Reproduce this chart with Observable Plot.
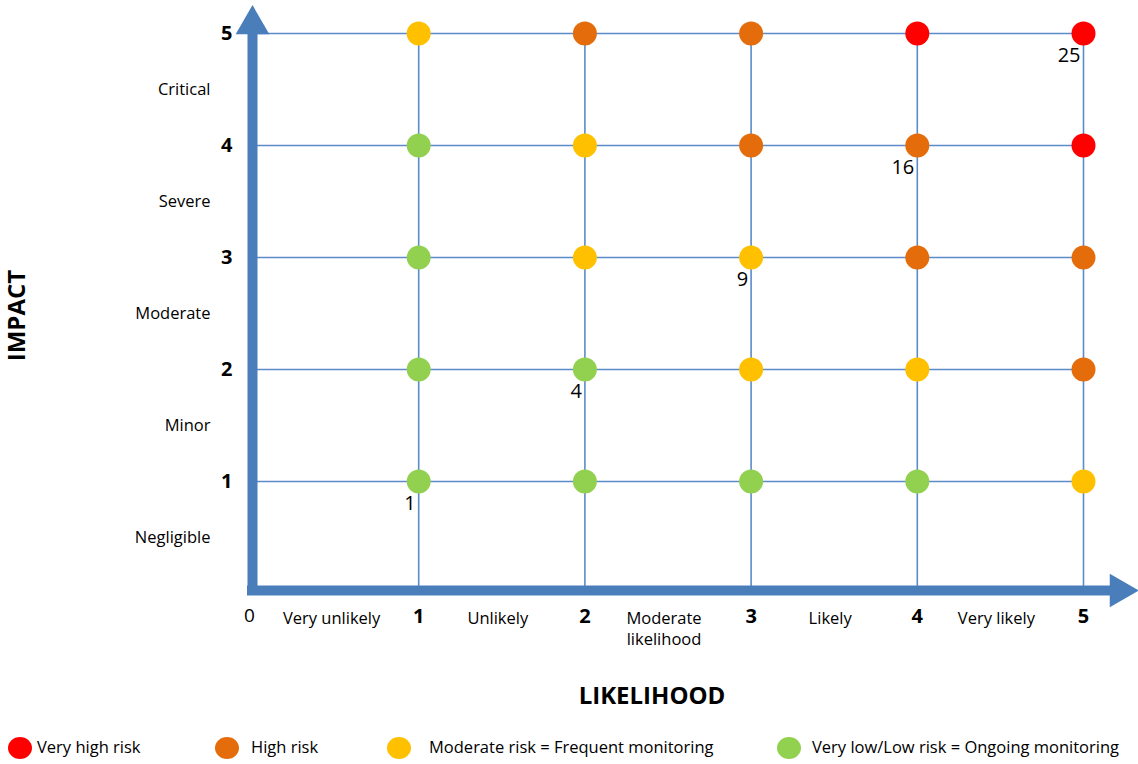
<!DOCTYPE html>
<html>
<head>
<meta charset="utf-8">
<script src="https://cdn.jsdelivr.net/npm/d3@7"></script>
<script src="https://cdn.jsdelivr.net/npm/@observablehq/plot@0.6"></script>
<style>
  html, body { margin: 0; padding: 0; background: #fff; }
  body { width: 1138px; height: 764px; overflow: hidden; font-family: "Open Sans", Lato, sans-serif; }
  #legend { position: relative; height: 39px; font-size: 16.5px; color: #000; }
  #legend .sw { position: absolute; width: 24px; height: 22px; border-radius: 50%; }
  #legend .lb { position: absolute; white-space: nowrap; line-height: 22px; }
</style>
</head>
<body>
<div id="chart"></div>
<div id="legend"></div>
<script>
// ---- data ----
const likelihood = [1, 2, 3, 4, 5];
const impact = [1, 2, 3, 4, 5];
const likelihoodLabels = ["Very unlikely", "Unlikely", "Moderate\nlikelihood", "Likely", "Very likely"];
const impactLabels = ["Negligible", "Minor", "Moderate", "Severe", "Critical"];
// rows: impact 1..5 ; columns: likelihood 1..5
const riskLevels = [
  ["Low", "Low", "Low", "Low", "Moderate"],
  ["Low", "Low", "Moderate", "Moderate", "High"],
  ["Low", "Moderate", "Moderate", "High", "High"],
  ["Low", "Moderate", "High", "High", "Very high"],
  ["Moderate", "High", "High", "Very high", "Very high"]
];
const scoreLabels = ["1", "4", "9", "16", "25"]; // on the diagonal
const riskCategories = ["Very high", "High", "Moderate", "Low"];
const riskColors = ["#FF0000", "#E46C0A", "#FFC000", "#92D050"];
const legendLabels = ["Very high risk", "High risk", "Moderate risk = Frequent monitoring", "Very low/Low risk = Ongoing monitoring"];

// ---- derived table ----
const cells = [];
impact.forEach((im, r) => likelihood.forEach((lk, c) => cells.push({x: lk, y: im, risk: riskLevels[r][c]})));
const diag = scoreLabels.map((s, i) => ({x: likelihood[i], y: impact[i], s}));

const blue = "#4A7EBB";
const grid = "#5B8BC9";
const font = "'Open Sans', Lato, sans-serif";

const chart = Plot.plot({
  width: 1138,
  height: 725,
  marginLeft: 252,
  marginRight: 55,
  marginTop: 33,
  marginBottom: 132,
  x: {domain: [0, 5], axis: null},
  y: {domain: [0, 5], axis: null},
  color: {domain: riskCategories, range: riskColors, legend: false},
  style: {fontFamily: font, fontSize: "16.5px", color: "#000", background: "#fff", overflow: "visible"},
  marks: [
    // grid
    Plot.ruleY(impact, {y: d => d, x1: () => 0, x2: () => 5, stroke: grid, strokeWidth: 1.6}),
    Plot.ruleX(likelihood, {x: d => d, y1: () => 0, y2: () => 5, stroke: grid, strokeWidth: 1.6}),
    // axis shafts
    Plot.ruleX([0], {x: d => d, y1: () => 0, y2: () => 5, stroke: blue, strokeWidth: 10, dy: -3, strokeLinecap: "square"}),
    Plot.ruleY([0], {y: d => d, x1: () => 0, x2: () => 5.18, stroke: blue, strokeWidth: 10, dy: -3, strokeLinecap: "square"}),
    // arrowheads
    Plot.dot([0], {x: () => 0, y: () => 5, symbol: "triangle", r: 12.5, fill: blue, stroke: "none", dy: -9}),
    Plot.dot([0], {x: () => 5, y: () => 0, symbol: "triangle", r: 12.5, fill: blue, stroke: "none", rotate: 90, dx: 36, dy: -3}),
    // risk dots
    Plot.dot(cells, {x: "x", y: "y", fill: "risk", r: 12, stroke: "none"}),
    // diagonal scores
    Plot.text(diag, {x: "x", y: "y", text: "s", textAnchor: "end", dx: -3, dy: 22, fontSize: 20}),
    // y tick numbers
    Plot.text(impact, {x: () => 0, y: d => d, text: d => String(d), textAnchor: "end", dx: -20, fontSize: 20, fontWeight: "bold"}),
    // y category labels
    Plot.text(impactLabels, {x: () => 0, y: (d, i) => i + 0.5, text: d => d, textAnchor: "end", dx: -42}),
    // x tick numbers
    Plot.text(["0"], {x: () => 0, y: () => 0, text: d => d, dx: -3, dy: 22, fontSize: 19}),
    Plot.text(likelihood, {x: d => d, y: () => 0, text: d => String(d), dy: 23, fontSize: 20, fontWeight: "bold"}),
    // x category labels
    Plot.text(likelihoodLabels, {x: (d, i) => i + 0.5, y: () => 0, text: d => d, lineAnchor: "top", dy: 15, lineHeight: 1.3, dx: -4}),
    // axis titles
    Plot.text(["IMPACT"], {x: () => 0, y: () => 2.5, text: d => d, rotate: -90, dx: -235, dy: 2, fontSize: 24, fontWeight: "bold"}),
    Plot.text(["LIKELIHOOD"], {x: () => 2.5, y: () => 0, text: d => d, dx: -16, dy: 103, fontSize: 24, fontWeight: "bold"})
  ]
});
document.getElementById("chart").appendChild(chart);

// ---- legend (HTML, below the SVG) ----
const legendLayout = [
  {cx: 20, tx: 37},
  {cx: 227, tx: 251},
  {cx: 399, tx: 429},
  {cx: 789, tx: 812}
];
const legend = document.getElementById("legend");
legendLabels.forEach((label, i) => {
  const sw = document.createElement("div");
  sw.className = "sw";
  sw.style.left = (legendLayout[i].cx - 12) + "px";
  sw.style.top = (23 - 11) + "px";
  sw.style.background = riskColors[i];
  legend.appendChild(sw);
  const lb = document.createElement("div");
  lb.className = "lb";
  lb.style.left = legendLayout[i].tx + "px";
  lb.style.top = (23 - 12) + "px";
  lb.textContent = label;
  legend.appendChild(lb);
});
</script>
</body>
</html>
